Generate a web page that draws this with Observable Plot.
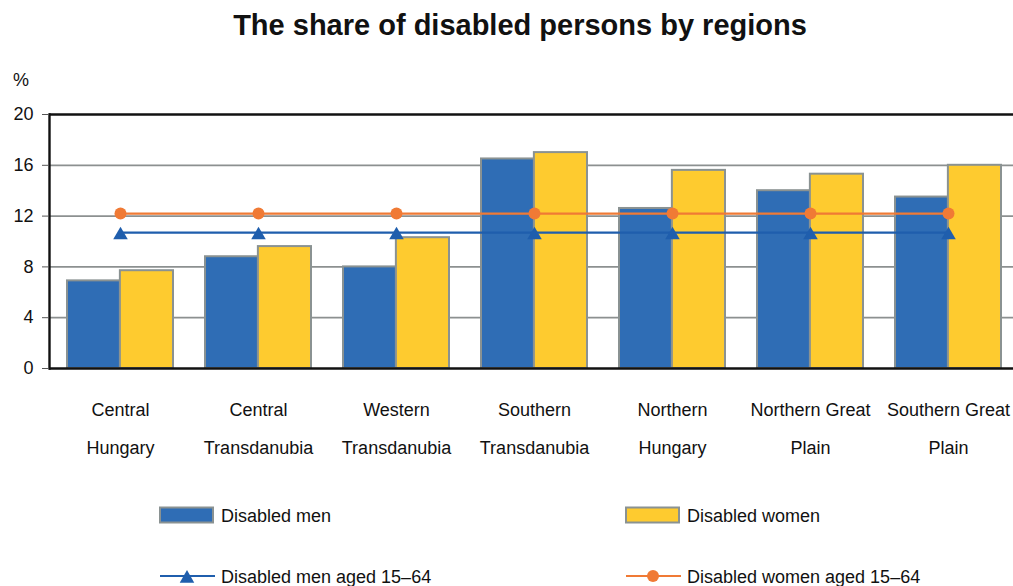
<!DOCTYPE html>
<html><head><meta charset="utf-8">
<script src="https://cdn.jsdelivr.net/npm/d3@7"></script>
<script src="https://cdn.jsdelivr.net/npm/@observablehq/plot@0.6"></script>
<style>
body{margin:0;background:#fff;overflow:hidden;font-family:"Liberation Sans",Arial,sans-serif;color:#111}
#wrap{position:relative;width:1013px;height:586px;overflow:hidden}
#title{position:absolute;left:0;top:8px;width:1040px;text-align:center;font-weight:bold;font-size:29px;line-height:34px;color:#111}
#unit{position:absolute;left:13px;top:70px;font-size:18px;line-height:20px}
#chart{position:absolute;left:0;top:60px}
#legend{position:absolute;left:0;top:470px}
</style></head><body>
<div id="wrap">
<div id="title">The share of disabled persons by regions</div>
<div id="unit">%</div>
<div id="chart"></div>
<svg id="legend" width="1013" height="116"></svg>
</div>
<script>
const regions = ["Central Hungary","Central Transdanubia","Western Transdanubia","Southern Transdanubia","Northern Hungary","Northern Great Plain","Southern Great Plain"];
const regionLabels = ["Central\nHungary","Central\nTransdanubia","Western\nTransdanubia","Southern\nTransdanubia","Northern\nHungary","Northern Great\nPlain","Southern Great\nPlain"];
const disabledMen = [6.9, 8.8, 8.0, 16.5, 12.6, 14.0, 13.5];
const disabledWomen = [7.7, 9.6, 10.3, 17.0, 15.6, 15.3, 16.0];
const menAged1564 = [10.7, 10.7, 10.7, 10.7, 10.7, 10.7, 10.7];
const womenAged1564 = [12.2, 12.2, 12.2, 12.2, 12.2, 12.2, 12.2];
const yTicks = [0, 4, 8, 12, 16, 20];
const gridTicks = [4, 8, 12, 16];
const seriesNames = ["Disabled men","Disabled women","Disabled men aged 15\u201364","Disabled women aged 15\u201364"];

const C = {men:"#2F6DB5", women:"#FECB2F", menLine:"#1F5EAD", womenLine:"#F07A35", edge:"#8A9292", grid:"#8C9090"};

const data = regions.map((r,i)=>({region:r, men:disabledMen[i], women:disabledWomen[i], menAged:menAged1564[i], womenAged:womenAged1564[i]}));

const pInner = 0.234, pOuter = 0.128, step = 138.05;
const x0 = 49, x1 = x0 + (regions.length - pInner + 2*pOuter)*step;
const bw = step*(1-pInner);

const chart = Plot.plot({
  width: 1013, height: 410,
  marginLeft: 49, marginRight: 0, marginTop: 54, marginBottom: 102,
  style: {fontFamily: '"Liberation Sans", Arial, sans-serif', fontSize: "18px", color: "#111", background: "transparent", overflow: "visible"},
  x: {type: "band", domain: regions, range: [x0, x1], paddingInner: pInner, paddingOuter: pOuter, label: null},
  y: {domain: [0, 20], label: null},
  marks: [
    Plot.ruleY(gridTicks, {stroke: C.grid, strokeWidth: 1.8}),
    Plot.barY(data, {x: "region", y: "men", fill: C.men, stroke: C.edge, strokeWidth: 2, insetRight: bw/2}),
    Plot.barY(data, {x: "region", y: "women", fill: C.women, stroke: C.edge, strokeWidth: 2, insetLeft: bw/2}),
    Plot.lineY(data, {x: "region", y: "womenAged", stroke: C.womenLine, strokeWidth: 2.2}),
    Plot.dot(data, {x: "region", y: "womenAged", fill: C.womenLine, stroke: "none", r: 6}),
    Plot.lineY(data, {x: "region", y: "menAged", stroke: C.menLine, strokeWidth: 2.2}),
    Plot.dot(data, {x: "region", y: "menAged", fill: C.menLine, stroke: "none", symbol: "triangle", r: 5.4, dy: 2.5}),
    Plot.ruleY([0, 20], {stroke: "#111", strokeWidth: 2.4}),
    Plot.frame({anchor: "left", stroke: "#111", strokeWidth: 2.4}),
    Plot.axisY({ticks: yTicks, tickSize: 7, tickPadding: 9, stroke: "#555", label: null}),
    Plot.axisX({tickSize: 0, tickPadding: 20, lineHeight: 2.13, tickFormat: d => regionLabels[regions.indexOf(d)], label: null})
  ]
});
document.getElementById("chart").appendChild(chart);

// legend
const lg = d3.select("#legend").style("font-family", '"Liberation Sans", Arial, sans-serif').style("font-size", "18px");
const items = [
  {name: seriesNames[0], kind: "bar", color: C.men, x: 160, y: 45},
  {name: seriesNames[1], kind: "bar", color: C.women, x: 626, y: 45},
  {name: seriesNames[2], kind: "triangle", color: C.menLine, x: 160, y: 106},
  {name: seriesNames[3], kind: "circle", color: C.womenLine, x: 626, y: 106}
];
items.forEach(it => {
  const g = lg.append("g");
  if (it.kind === "bar") {
    g.append("rect").attr("x", it.x).attr("y", it.y - 7.5).attr("width", 53).attr("height", 15)
      .attr("fill", it.color).attr("stroke", C.edge).attr("stroke-width", 2);
  } else {
    g.append("line").attr("x1", it.x).attr("x2", it.x + 55).attr("y1", it.y).attr("y2", it.y)
      .attr("stroke", it.color).attr("stroke-width", 2.2);
    const sym = it.kind === "triangle" ? d3.symbolTriangle : d3.symbolCircle;
    const r = it.kind === "triangle" ? 5.4 : 6;
    g.append("path").attr("d", d3.symbol(sym, Math.PI*r*r)())
      .attr("transform", `translate(${it.x + 27},${it.y + (it.kind === "triangle" ? 2.5 : 0)})`)
      .attr("fill", it.color);
  }
  g.append("text").attr("x", it.x + 61).attr("y", it.y + 7).attr("fill", "#111").text(it.name);
});
</script>
</body></html>
